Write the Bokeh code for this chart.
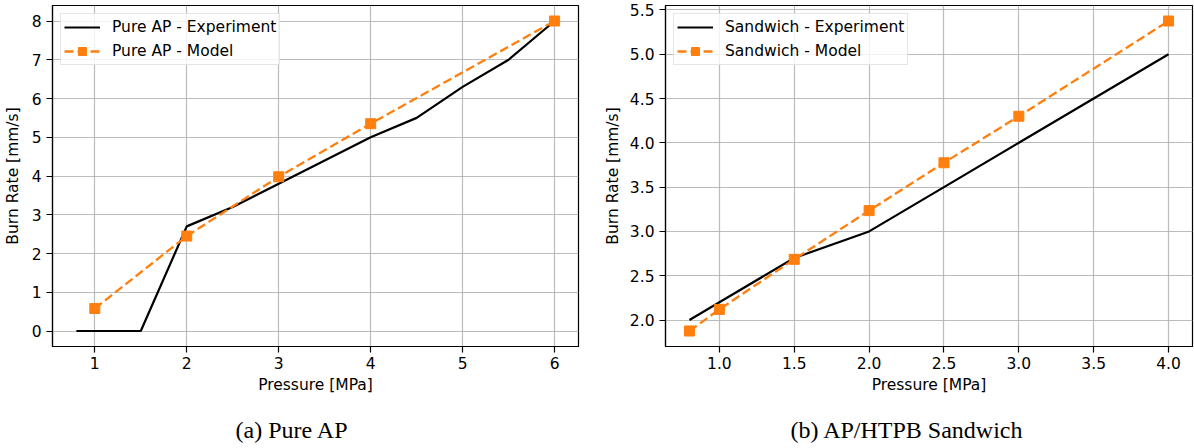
from bokeh.plotting import figure
from bokeh.layouts import row
from bokeh.models import (Range1d, FixedTicker, NumeralTickFormatter, Legend,
                          LegendItem, Title)
from bokeh.embed import file_html
from bokeh.resources import INLINE

# ---- data (a) Pure AP ----
ap_exp_p = [0.8, 1.5, 2.0, 2.5, 3.0, 3.5, 4.0, 4.5, 5.0, 5.5, 6.0]
ap_exp_r = [0.0, 0.0, 2.7, 3.2, 3.8, 4.4, 5.0, 5.5, 6.3, 7.0, 8.0]
ap_mod_p = [1.0, 2.0, 3.0, 4.0, 6.0]
ap_mod_r = [0.58, 2.45, 3.98, 5.35, 8.0]
ap_xticks = [1, 2, 3, 4, 5, 6]
ap_yticks = [0, 1, 2, 3, 4, 5, 6, 7, 8]

# ---- data (b) AP/HTPB Sandwich ----
sw_exp_p = [0.8, 1.0, 1.5, 2.0, 2.5, 3.0, 3.5, 4.0]
sw_exp_r = [2.0, 2.2, 2.7, 3.0, 3.5, 4.0, 4.5, 5.0]
sw_mod_p = [0.8, 1.0, 1.5, 2.0, 2.5, 3.0, 4.0]
sw_mod_r = [1.876, 2.12, 2.685, 3.235, 3.775, 4.30, 5.375]
sw_xticks = [1.0, 1.5, 2.0, 2.5, 3.0, 3.5, 4.0]
sw_yticks = [2.0, 2.5, 3.0, 3.5, 4.0, 4.5, 5.0, 5.5]

labels_a = ["Pure AP - Experiment", "Pure AP - Model"]
labels_b = ["Sandwich - Experiment", "Sandwich - Model"]
captions = ["(a) Pure AP", "(b) AP/HTPB Sandwich"]
xlabel = "Pressure [MPa]"
ylabel = "Burn Rate [mm/s]"

FONT = "DejaVu Sans"
FS = "15.5px"
ORANGE = "#ff7f0e"


def pad(lo, hi, m=0.05):
    d = hi - lo
    return lo - m * d, hi + m * d


def make(exp_p, exp_r, mod_p, mod_r, xt, yt, labels, caption, fmt,
         fw, mbl, mbr, ylab_standoff, cap_offset):
    x0, x1 = pad(min(exp_p + mod_p), max(exp_p + mod_p))
    y0, y1 = pad(min(exp_r + mod_r), max(exp_r + mod_r))
    p = figure(frame_width=fw, frame_height=341,
               min_border_left=mbl, min_border_right=mbr,
               min_border_top=5, min_border_bottom=102,
               x_range=Range1d(x0, x1), y_range=Range1d(y0, y1),
               output_backend="svg", toolbar_location=None)
    p.background_fill_color = "white"
    p.border_fill_color = "white"
    p.outline_line_color = "black"
    p.outline_line_width = 1.2
    p.outline_line_alpha = 1.0

    p.xaxis.ticker = FixedTicker(ticks=xt)
    p.yaxis.ticker = FixedTicker(ticks=yt)
    if fmt:
        p.xaxis.formatter = NumeralTickFormatter(format=fmt)
        p.yaxis.formatter = NumeralTickFormatter(format=fmt)
    for ax in (p.xaxis[0], p.yaxis[0]):
        ax.axis_line_color = "black"
        ax.axis_line_width = 1.2
        ax.major_tick_line_color = "black"
        ax.major_tick_line_width = 1.2
        ax.major_tick_out = 6
        ax.major_tick_in = 0
        ax.minor_tick_line_color = None
        ax.major_label_text_font = FONT
        ax.major_label_text_font_size = FS
        ax.major_label_text_color = "black"
        ax.axis_label_text_font = FONT
        ax.axis_label_text_font_size = FS
        ax.axis_label_text_font_style = "normal"
        ax.axis_label_text_color = "black"
        ax.major_label_standoff = 4
    p.xaxis.axis_label = xlabel
    p.yaxis.axis_label = ylabel
    p.xaxis.axis_label_standoff = 4
    p.yaxis.axis_label_standoff = ylab_standoff
    p.yaxis.major_label_standoff = 5

    p.grid.grid_line_color = "#b0b0b0"
    p.grid.grid_line_width = 1.2
    p.grid.grid_line_alpha = 0.85

    r1 = p.line(exp_p, exp_r, line_color="black", line_width=2.2)
    r2 = p.line(mod_p, mod_r, line_color=ORANGE, line_width=2.3,
                line_dash="9 4")
    r3 = p.scatter(mod_p, mod_r, marker="square", size=10,
                   fill_color=ORANGE, line_color=ORANGE)

    leg = Legend(items=[LegendItem(label=labels[0], renderers=[r1]),
                        LegendItem(label=labels[1], renderers=[r2, r3])],
                 location="top_left", margin=8, padding=3, spacing=4,
                 glyph_width=36, glyph_height=20, label_height=20,
                 label_standoff=12, label_text_font=FONT,
                 label_text_font_size=FS, label_text_color="black",
                 border_line_color="#cccccc", border_line_width=1,
                 background_fill_color="white", background_fill_alpha=0.8)
    p.add_layout(leg, "center")

    cap = Title(text=caption, text_font="Liberation Serif",
                text_font_size="24px", text_font_style="normal",
                text_color="black", align="left", offset=cap_offset,
                standoff=37)
    p.add_layout(cap, "below")
    return p


p1 = make(ap_exp_p, ap_exp_r, ap_mod_p, ap_mod_r, ap_xticks, ap_yticks,
          labels_a, captions[0], None, 526, 52, 19, 7, 183)
p2 = make(sw_exp_p, sw_exp_r, sw_mod_p, sw_mod_r, sw_xticks, sw_yticks,
          labels_b, captions[1], "0.0", 527, 68, 2, 5, 125)

layout = row(p1, p2)
open("out.html", "w").write(file_html(layout, INLINE))
